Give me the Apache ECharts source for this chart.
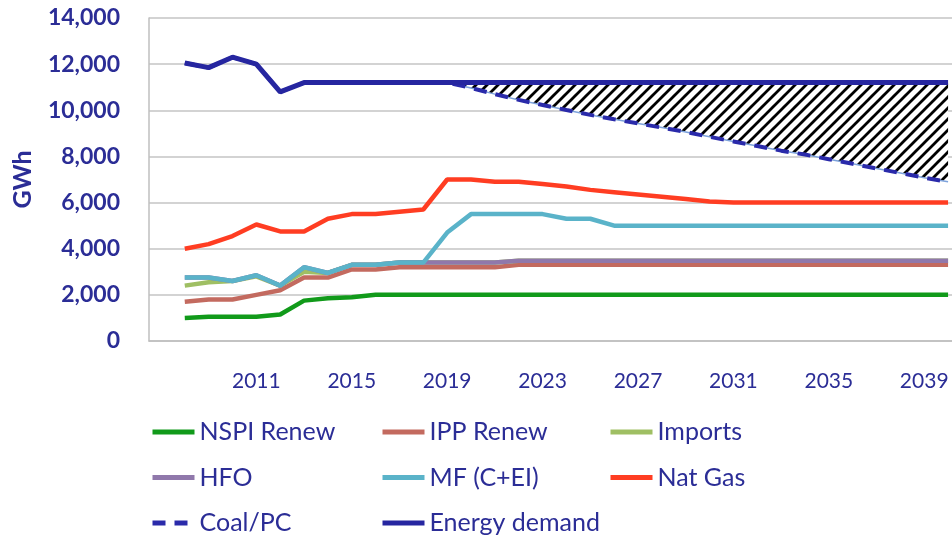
<!DOCTYPE html>
<html>
<head>
<meta charset="utf-8">
<script src="https://cdn.jsdelivr.net/npm/echarts@6/dist/echarts.min.js"></script>
<style>
  html, body { margin: 0; padding: 0; background: #fff; }
  #main { width: 952px; height: 537px; }
</style>
</head>
<body>
<div id="main"></div>
<script>
var years = ['2007','2008','2009','2010','2011','2012','2013','2014','2015','2016','2017','2018','2019','2020',
  '2021','2022','2023','2024','2025','2026','2027','2028','2029','2030','2031','2032','2033','2034',
  '2035','2036','2037','2038','2039','2040'];
var tickLabels = ['2011','2015','2019','2023','2027','2031','2035','2039'];

var nspiRenew = [null,1000,1050,1050,1050,1150,1750,1850,1900,2000,2000,2000,2000,2000,2000,2000,2000,2000,2000,
  2000,2000,2000,2000,2000,2000,2000,2000,2000,2000,2000,2000,2000,2000,2000];
var ippRenew = [null,1700,1800,1800,2000,2200,2750,2750,3100,3100,3200,3200,3200,3200,3200,3300,3300,3300,3300,
  3300,3300,3300,3300,3300,3300,3300,3300,3300,3300,3300,3300,3300,3300,3300];
var imports = [null,2400,2550,2600,2800,2400,3000,2950,3300,3300,3400,3400,3400,3400,3400,3480,3480,3480,3480,
  3480,3480,3480,3480,3480,3480,3480,3480,3480,3480,3480,3480,3480,3480,3480];
var hfo = [null,2750,2750,2600,2850,2400,3200,2950,3300,3300,3400,3400,3400,3400,3400,3480,3480,3480,3480,
  3480,3480,3480,3480,3480,3480,3480,3480,3480,3480,3480,3480,3480,3480,3480];
var mf = [null,2750,2750,2600,2850,2400,3200,2950,3300,3300,3400,3400,4700,5500,5500,5500,5500,5300,5300,
  5000,5000,5000,5000,5000,5000,5000,5000,5000,5000,5000,5000,5000,5000,5000];
var natGas = [null,4000,4200,4550,5050,4750,4750,5300,5500,5500,5600,5700,7000,7000,6900,6900,6800,6700,6550,
  6450,6350,6250,6150,6050,6000,6000,6000,6000,6000,6000,6000,6000,6000,6000];
var coalPC = [null,12050,11850,12300,12000,10800,11200,11200,11200,11200,11200,11200,11200,10970,10700,10450,
  10230,10010,9800,9610,9430,9250,9060,8850,8650,8450,8250,8080,7880,7680,7480,7280,7080,6900];
var energyDemand = [null,12050,11850,12300,12000,10800,11200,11200,11200,11200,11200,11200,11200,11200,11200,
  11200,11200,11200,11200,11200,11200,11200,11200,11200,11200,11200,11200,11200,11200,11200,11200,11200,11200,11200];

var textBlue = '#2b2d96';

// hatch pattern for the gap between demand and coal
var hatch = document.createElement('canvas');
hatch.width = 11; hatch.height = 11;
var hc = hatch.getContext('2d');
hc.fillStyle = '#fff';
hc.fillRect(0, 0, 11, 11);
hc.strokeStyle = '#000';
hc.lineWidth = 2.8;
hc.beginPath();
hc.moveTo(-2, 13); hc.lineTo(13, -2);
hc.moveTo(-3, 3); hc.lineTo(3, -3);
hc.moveTo(8, 14); hc.lineTo(14, 8);
hc.stroke();

// base/gap stack only where coal drops below demand
var gapStart = years.indexOf('2019');
var gapBase = coalPC.map(function (v, i) { return i >= gapStart ? v : null; });
var gapSize = coalPC.map(function (v, i) { return i >= gapStart ? energyDemand[i] - v : null; });

function lineSeries(name, data, color, width, type) {
  return {
    name: name, type: 'line', data: data, symbol: 'none', z: 3,
    lineStyle: { color: color, width: width, type: type || 'solid', cap: 'butt' },
    itemStyle: { color: color }
  };
}

var legendText = { color: textBlue, fontSize: 25, fontFamily: 'Lato', lineHeight: 26 };
function legendCol(left, names) {
  return {
    data: names, orient: 'vertical', left: left, top: 419, padding: 0,
    itemGap: 19.5, itemWidth: 42, itemHeight: 14, selectedMode: false,
    itemStyle: { opacity: 0 },
    lineStyle: { width: 5 },
    textStyle: legendText
  };
}

var chart = echarts.init(document.getElementById('main'));

option = {
  animation: false,
  grid: { left: 149, right: -8, top: 18, bottom: 196, containLabel: false, outerBoundsMode: 'none' },
  legend: [
    legendCol(150, ['NSPI Renew', 'HFO', 'Coal/PC']),
    legendCol(380, ['IPP Renew', 'MF (C+EI)', 'Energy demand']),
    legendCol(608, ['Imports', 'Nat Gas'])
  ],
  xAxis: {
    type: 'category',
    data: years,
    boundaryGap: true,
    axisLine: { lineStyle: { color: '#bfbfbf', width: 1.5 } },
    axisTick: { interval: 0, length: 6, lineStyle: { color: '#bfbfbf', width: 1.5 } },
    axisLabel: {
      interval: function (i, v) { return tickLabels.indexOf(v) >= 0; },
      color: textBlue, fontSize: 21, fontFamily: 'Lato', margin: 30
    },
    splitLine: { show: false }
  },
  yAxis: {
    type: 'value',
    min: 0, max: 14000, interval: 2000,
    name: 'GWh',
    nameLocation: 'middle',
    nameRotate: 90,
    nameGap: 114,
    nameTextStyle: { color: textBlue, fontSize: 25, fontWeight: 'bold', fontFamily: 'Lato' },
    axisLine: { show: true, lineStyle: { color: '#bfbfbf', width: 1.5 } },
    axisTick: { show: false },
    axisLabel: {
      color: textBlue, fontSize: 23, fontWeight: 'bold', fontFamily: 'Lato', margin: 29,
      formatter: function (v) { return v.toLocaleString('en-US'); }
    },
    splitLine: { lineStyle: { color: '#c4c4c4', width: 1.5 } }
  },
  series: [
    {
      name: 'gapBase', type: 'line', stack: 'gap', data: gapBase, symbol: 'none', z: 1,
      lineStyle: { width: 1.5, color: '#7ea3dc' }, silent: true
    },
    {
      name: 'gap', type: 'line', stack: 'gap', data: gapSize, symbol: 'none', z: 1,
      lineStyle: { width: 0 }, silent: true,
      areaStyle: { color: { image: hatch, repeat: 'repeat' }, opacity: 1 }
    },
    lineSeries('NSPI Renew', nspiRenew, '#119a1a', 4.5),
    lineSeries('IPP Renew', ippRenew, '#c36a5f', 4.5),
    lineSeries('Imports', imports, '#9fbf63', 4.5),
    lineSeries('HFO', hfo, '#9078ab', 4.5),
    lineSeries('MF (C+EI)', mf, '#5ab3c9', 4.5),
    lineSeries('Nat Gas', natGas, '#ff3d22', 4.5),
    lineSeries('Coal/PC', coalPC, '#2a2aaa', 4, [13, 9]),
    lineSeries('Energy demand', energyDemand, '#2626a0', 5)
  ]
};

chart.setOption(option);
</script>
</body>
</html>
